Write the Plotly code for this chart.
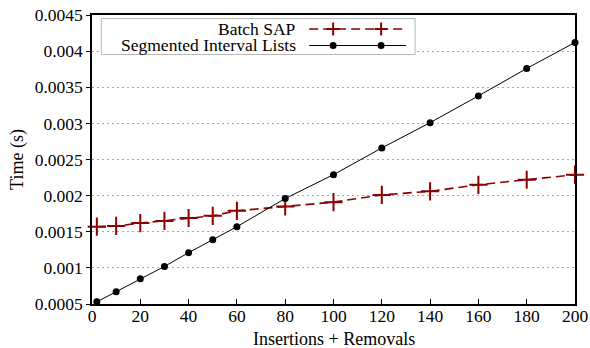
import plotly.graph_objects as go

# ---- data ----
ops = [2, 10, 20, 30, 40, 50, 60, 80, 100, 120, 140, 160, 180, 200]
batch_sap = [0.00157, 0.00158, 0.00162, 0.00165, 0.00169, 0.00172, 0.00179,
             0.00185, 0.00191, 0.00201, 0.00206, 0.00215, 0.00222, 0.00229]
segmented = [0.00053, 0.00067, 0.00085, 0.00102, 0.00121, 0.00139, 0.00157,
             0.00196, 0.00229, 0.00266, 0.00301, 0.00338, 0.00376, 0.00412]
series_names = ["Batch SAP", "Segmented Interval Lists"]
x_ticks = [0, 20, 40, 60, 80, 100, 120, 140, 160, 180, 200]
y_ticks = [0.0005, 0.001, 0.0015, 0.002, 0.0025, 0.003, 0.0035, 0.004, 0.0045]
y_tick_labels = ["0.0005", "0.001", "0.0015", "0.002", "0.0025", "0.003",
                 "0.0035", "0.004", "0.0045"]

RED = "#8b0000"
FONT = "Liberation Serif"
TICK_SIZE = 17.5
TITLE_SIZE = 18

fig = go.Figure()
fig.add_trace(go.Scatter(
    x=ops, y=batch_sap, name=series_names[0], mode="lines+markers",
    line=dict(color=RED, width=1.6, dash="9px,5px"),
    marker=dict(symbol="cross-thin", size=13, line=dict(color=RED, width=2)),
    cliponaxis=False, showlegend=False))
fig.add_trace(go.Scatter(
    x=ops, y=segmented, name=series_names[1], mode="lines+markers",
    line=dict(color="black", width=1),
    marker=dict(symbol="circle", size=7, color="black"),
    cliponaxis=False, showlegend=False))

# ---- custom legend (gnuplot style: text right-aligned, sample on the right) ----
W, H = 483.3, 289.0
def px(v):
    return (v - 91.7) / W
def py(v):
    return (304 - v) / H

shapes = [dict(type="rect", xref="paper", yref="paper",
               x0=px(101), x1=px(415), y0=py(54.5), y1=py(18.5),
               line=dict(color="#b8b8b8", width=1), fillcolor="white", layer="above")]
annotations = []
rows = [29.0, 45.5]
for i, name in enumerate(series_names):
    yy = py(rows[i])
    annotations.append(dict(text=name, xref="paper", yref="paper", x=px(297), y=yy,
                            xanchor="right", yanchor="middle", showarrow=False,
                            borderpad=0,
                            font=dict(family=FONT, size=TICK_SIZE, color="black")))
    if i == 0:
        shapes.append(dict(type="line", xref="paper", yref="paper", x0=px(309), x1=px(406),
                           y0=yy, y1=yy, line=dict(color=RED, width=1.6, dash="9px,5px"),
                           layer="above"))
    else:
        shapes.append(dict(type="line", xref="paper", yref="paper", x0=px(309), x1=px(406),
                           y0=yy, y1=yy, line=dict(color="black", width=1), layer="above"))
    for mx in (333, 381):
        if i == 0:
            shapes.append(dict(type="line", xref="paper", yref="paper", xsizemode="pixel",
                               ysizemode="pixel", xanchor=px(mx), yanchor=yy,
                               x0=-6.5, x1=6.5, y0=0, y1=0, line=dict(color=RED, width=2),
                               layer="above"))
            shapes.append(dict(type="line", xref="paper", yref="paper", xsizemode="pixel",
                               ysizemode="pixel", xanchor=px(mx), yanchor=yy,
                               x0=0, x1=0, y0=-6.5, y1=6.5, line=dict(color=RED, width=2),
                               layer="above"))
        else:
            shapes.append(dict(type="circle", xref="paper", yref="paper", xsizemode="pixel",
                               ysizemode="pixel", xanchor=px(mx), yanchor=yy,
                               x0=-3.5, x1=3.5, y0=-3.5, y1=3.5, fillcolor="black",
                               line=dict(color="black", width=0), layer="above"))

# x-axis title as an annotation to control its exact position
annotations.append(dict(text="Insertions + Removals", xref="paper", yref="paper",
                        x=0.5, y=py(338.5), xanchor="center", yanchor="middle",
                        showarrow=False, borderpad=0,
                        font=dict(family=FONT, size=TITLE_SIZE, color="black")))

fig.update_layout(
    width=590, height=348,
    margin=dict(l=92, r=15, t=15, b=44),
    paper_bgcolor="white", plot_bgcolor="white",
    font=dict(family=FONT, size=TICK_SIZE, color="black"),
    shapes=shapes, annotations=annotations,
)
fig.update_xaxes(
    range=[0, 200], tickvals=x_ticks, showgrid=False, zeroline=False,
    showline=True, linecolor="black", linewidth=1.5, mirror=True,
    ticks="inside", ticklen=5, tickcolor="black", tickwidth=1,
    ticklabelstandoff=-5, automargin=False,
    tickfont=dict(size=TICK_SIZE),
)
fig.update_yaxes(
    range=[0.0005, 0.0045], tickvals=y_ticks, ticktext=y_tick_labels,
    showgrid=True, gridcolor="#a8a8a8", griddash="1.5px,3.5px", gridwidth=1, zeroline=False,
    showline=True, linecolor="black", linewidth=1.5, mirror=True,
    ticks="outside", ticklen=4, tickcolor="black", tickwidth=1, automargin=False,
    title=dict(text="Time (s)", standoff=6, font=dict(size=TITLE_SIZE)),
    tickfont=dict(size=TICK_SIZE),
)

fig.write_html("out.html")
